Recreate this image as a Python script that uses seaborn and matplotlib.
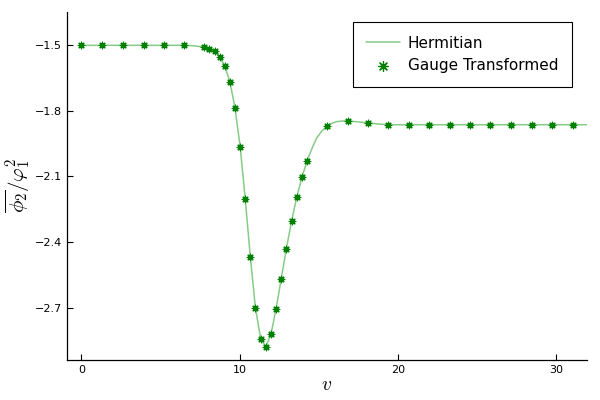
import matplotlib
matplotlib.use("Agg")
import matplotlib.pyplot as plt
import seaborn as sns
import pandas as pd

# Gauge transformed samples (markers)
v_gauge = [0.0, 1.34, 2.65, 3.94, 5.23, 6.51, 7.77, 8.10, 8.42, 8.74, 9.07, 9.39, 9.71, 10.04,
           10.36, 10.68, 11.0, 11.34, 11.66, 11.99, 12.31, 12.63, 12.96, 13.29, 13.61, 13.95,
           14.27, 15.54, 16.84, 18.12, 19.41, 20.69, 21.99, 23.27, 24.57, 25.85, 27.16, 28.46,
           29.74, 31.04]
r_gauge = [-1.502, -1.502, -1.502, -1.502, -1.502, -1.502, -1.5105, -1.518, -1.529, -1.555,
           -1.596, -1.669, -1.786, -1.965, -2.203, -2.466, -2.698, -2.841, -2.876, -2.818,
           -2.703, -2.568, -2.429, -2.303, -2.195, -2.102, -2.028, -1.871, -1.847, -1.856,
           -1.864, -1.864, -1.864, -1.864, -1.864, -1.864, -1.864, -1.864, -1.864, -1.864]

# Hermitian curve (line)
v_herm = [0.0, 1.34, 2.65, 3.94, 5.23, 6.51, 7.1, 7.77, 8.10, 8.42, 8.74, 9.07, 9.39, 9.71,
          10.04, 10.36, 10.68, 11.0, 11.34, 11.66, 11.99, 12.31, 12.63, 12.96, 13.29, 13.61,
          13.95, 14.27, 14.6, 14.87, 15.2, 15.54, 15.85, 16.13, 16.5, 16.84, 17.5, 18.12, 18.8,
          19.41, 20.69, 23.27, 25.85, 28.46, 31.04, 32.0]
r_herm = [-1.502, -1.502, -1.502, -1.502, -1.502, -1.502, -1.504, -1.5105, -1.518, -1.529,
          -1.555, -1.596, -1.669, -1.786, -1.965, -2.203, -2.466, -2.698, -2.841, -2.876,
          -2.818, -2.703, -2.568, -2.429, -2.303, -2.195, -2.102, -2.028, -1.968, -1.925,
          -1.893, -1.871, -1.857, -1.850, -1.847, -1.847, -1.851, -1.856, -1.861, -1.864,
          -1.864, -1.864, -1.864, -1.864, -1.864, -1.864]

y_ticks = [-1.5, -1.8, -2.1, -2.4, -2.7]
x_ticks = [0, 10, 20, 30]

sns.set_style("ticks")
plt.rcParams["mathtext.fontset"] = "cm"
plt.rcParams["text.color"] = "black"
fig = plt.figure(figsize=(6, 4), dpi=100)
ax = fig.add_axes([0.1117, 0.10, 0.8666, 0.87])

df_h = pd.DataFrame({"v": v_herm, "r": r_herm})
df_g = pd.DataFrame({"v": v_gauge, "r": r_gauge})

sns.lineplot(data=df_h, x="v", y="r", ax=ax, color="#86cc86", linewidth=1.1,
             label="Hermitian", sort=False)
sns.scatterplot(data=df_g, x="v", y="r", ax=ax, marker=(8, 2, 0), color="#008000",
                s=22, linewidth=0.9, edgecolor="#008000", label="Gauge Transformed", zorder=3)

ax.set_xlim(-0.9, 31.95)
ax.set_ylim(-2.937, -1.35)
ax.set_xticks(x_ticks)
ax.set_yticks(y_ticks)
ax.set_xticklabels([str(t) for t in x_ticks])
ax.set_yticklabels([f"{t:.1f}".replace("-", "\u2212") for t in y_ticks])
ax.tick_params(direction="in", length=4, width=0.8, labelsize=8, colors="black")
for s in ["top", "right"]:
    ax.spines[s].set_visible(False)
for s in ["left", "bottom"]:
    ax.spines[s].set_linewidth(0.9)
    ax.spines[s].set_color("black")

ax.set_xlabel(r"$v$", fontsize=14, labelpad=0, color="black")
ax.set_ylabel(r"$\overline{\phi_2}/\varphi_1^2$", fontsize=15, labelpad=2, color="black")

leg = ax.legend(loc="upper right", bbox_to_anchor=(0.971, 0.971), borderaxespad=0,
                fontsize=11, frameon=True, fancybox=False, edgecolor="black", framealpha=1,
                borderpad=0.9, handlelength=2.2, handletextpad=0.5, labelspacing=0.5,
                markerscale=1.5)
leg.get_frame().set_linewidth(0.8)
for t in leg.get_texts():
    t.set_color("black")

fig.savefig("out.png", dpi=100)
